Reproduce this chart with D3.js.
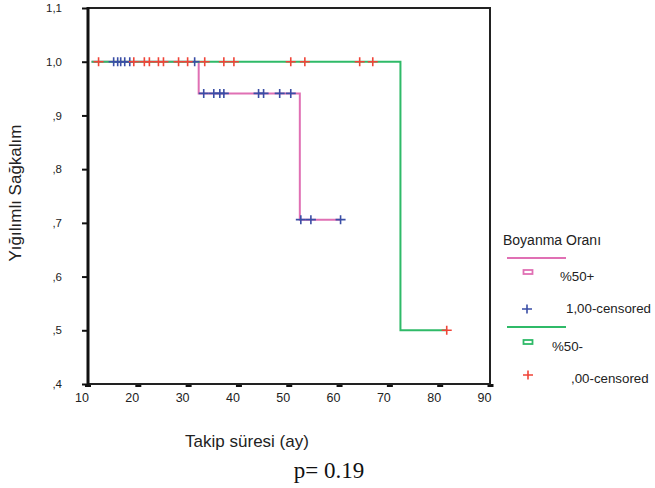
<!DOCTYPE html>
<html>
<head>
<meta charset="utf-8">
<script src="https://cdn.jsdelivr.net/npm/d3@7"></script>
<style>
	body { margin: 0; background: #fff; }
	svg { display: block; font-family: "Liberation Sans", Arial, sans-serif; }
</style>
</head>
<body>
<svg id="chart" width="655" height="488"></svg>
<script>
// step curves (time, survival after the step)
var plusTimes = [10.8, 32.1, 52.2, 60.3];
var plusSurv = [1.0, 0.941, 0.706, 0.706];
var minusTimes = [10.8, 72.2, 81.4];
var minusSurv = [1.0, 0.5, 0.5];

// censored cases
var plusCensored = [15.2, 16.0, 16.6, 17.4, 18.4, 31.3, 33.1, 35.1, 36.3, 37.1, 44.0, 45.0, 48.2, 50.4, 52.4, 54.4, 60.3];
var minusCensored = [12.2, 19.2, 21.3, 22.3, 24.1, 25.1, 28.1, 29.9, 33.3, 37.1, 39.1, 50.4, 53.2, 64.1, 66.7, 81.4];

var xTicks = [10, 20, 30, 40, 50, 60, 70, 80, 90];
var yTicks = [0.4, 0.5, 0.6, 0.7, 0.8, 0.9, 1.0, 1.1];
var yTickLabels = [',4', ',5', ',6', ',7', ',8', ',9', '1,0', '1,1'];

var legendTitle = 'Boyanma Oranı';
var legendItems = ['%50+', '1,00-censored', '%50-', ',00-censored'];

var pink = '#e070b4';
var green = '#2fba68';
var blue = '#3a4ea6';
var red = '#f04438';

var svg = d3.select('#chart');

var x = d3.scaleLinear().domain([10, 90]).range([87.5, 490]);
var y = d3.scaleLinear().domain([0.4, 1.1]).range([384, 8]);

// y ticks
var yAxis = svg.append('g')
	.attr('transform', 'translate(88,0)')
	.call(d3.axisLeft(y).tickValues(yTicks).tickSize(6).tickPadding(20)
		.tickFormat(function (d, i) { return yTickLabels[i]; }));
yAxis.select('.domain').remove();
yAxis.selectAll('line').attr('stroke', '#111').attr('stroke-width', 2);
yAxis.selectAll('text').attr('font-size', 11.5).attr('fill', '#222')
	.attr('font-family', '"Liberation Sans", Arial, sans-serif');

// x ticks (short wide dashes, labels sit a little left of the tick)
var xAxis = svg.append('g')
	.attr('transform', 'translate(0,384)')
	.call(d3.axisBottom(x).tickValues(xTicks).tickSize(3).tickPadding(6));
xAxis.select('.domain').remove();
xAxis.selectAll('line').attr('stroke', '#111').attr('stroke-width', 6);
xAxis.selectAll('text').attr('font-size', 12.5).attr('fill', '#222')
	.attr('dx', -6)
	.attr('font-family', '"Liberation Sans", Arial, sans-serif');

// frame
svg.append('rect')
	.attr('x', 88).attr('y', 8)
	.attr('width', 402).attr('height', 376)
	.attr('fill', 'none')
	.attr('stroke', '#222')
	.attr('stroke-width', 2);
svg.append('line')
	.attr('x1', 88).attr('x2', 88).attr('y1', 7).attr('y2', 385)
	.attr('stroke', '#111').attr('stroke-width', 3);

function stepPath(times, surv) {
	var d = 'M' + x(times[0]) + ',' + y(surv[0]);
	for (var i = 1; i < times.length; i++) {
		d += 'H' + x(times[i]) + 'V' + y(surv[i]);
	}
	return d;
}

function survAt(times, surv, t) {
	var s = surv[0];
	for (var i = 1; i < times.length; i++) {
		if (t >= times[i]) {
			s = surv[i];
		}
	}
	return s;
}

svg.append('path')
	.attr('d', stepPath(plusTimes, plusSurv))
	.attr('fill', 'none')
	.attr('stroke', pink)
	.attr('stroke-width', 2);

svg.append('path')
	.attr('d', stepPath(minusTimes, minusSurv))
	.attr('fill', 'none')
	.attr('stroke', green)
	.attr('stroke-width', 2);

function drawCross(g, cx, cy, color) {
	g.append('path')
		.attr('d', 'M' + (cx - 5) + ',' + cy + 'H' + (cx + 5) + 'M' + cx + ',' + (cy - 4.5) + 'V' + (cy + 4.5))
		.attr('stroke', color)
		.attr('stroke-width', 1.6)
		.attr('fill', 'none');
}

var marks = svg.append('g');
plusCensored.forEach(function (t) {
	drawCross(marks, x(t), y(survAt(plusTimes, plusSurv, t)), blue);
});
minusCensored.forEach(function (t) {
	drawCross(marks, x(t), y(survAt(minusTimes, minusSurv, t)), red);
});

// legend
var leg = svg.append('g').attr('font-size', 13.3).attr('fill', '#222');
leg.append('text').attr('x', 503).attr('y', 245).attr('font-size', 14).text(legendTitle);

leg.append('line').attr('x1', 507).attr('x2', 566).attr('y1', 258).attr('y2', 258)
	.attr('stroke', pink).attr('stroke-width', 2);
leg.append('rect').attr('x', 523.5).attr('y', 270).attr('width', 9).attr('height', 4)
	.attr('fill', 'none').attr('stroke', pink).attr('stroke-width', 1.8);
leg.append('text').attr('x', 560).attr('y', 281).text(legendItems[0]);

drawCross(leg, 527, 309, blue);
leg.append('text').attr('x', 566).attr('y', 313).text(legendItems[1]);

leg.append('line').attr('x1', 507).attr('x2', 566).attr('y1', 327).attr('y2', 327)
	.attr('stroke', green).attr('stroke-width', 2);
leg.append('rect').attr('x', 523.5).attr('y', 340).attr('width', 9).attr('height', 4)
	.attr('fill', 'none').attr('stroke', green).attr('stroke-width', 1.8);
leg.append('text').attr('x', 552).attr('y', 351).text(legendItems[2]);

drawCross(leg, 528, 375, red);
leg.append('text').attr('x', 571).attr('y', 383).text(legendItems[3]);

// axis titles
svg.append('text')
	.attr('transform', 'translate(21,193) rotate(-90)')
	.attr('text-anchor', 'middle')
	.attr('font-size', 17)
	.attr('fill', '#222')
	.text('Yığılımlı Sağkalım');

svg.append('text')
	.attr('x', 247).attr('y', 447)
	.attr('text-anchor', 'middle')
	.attr('font-size', 17)
	.attr('fill', '#222')
	.text('Takip süresi (ay)');

svg.append('text')
	.attr('x', 329).attr('y', 478)
	.attr('text-anchor', 'middle')
	.attr('font-family', '"Liberation Serif", "Times New Roman", serif')
	.attr('font-size', 23)
	.attr('fill', '#111')
	.text('p= 0.19');
</script>
</body>
</html>
